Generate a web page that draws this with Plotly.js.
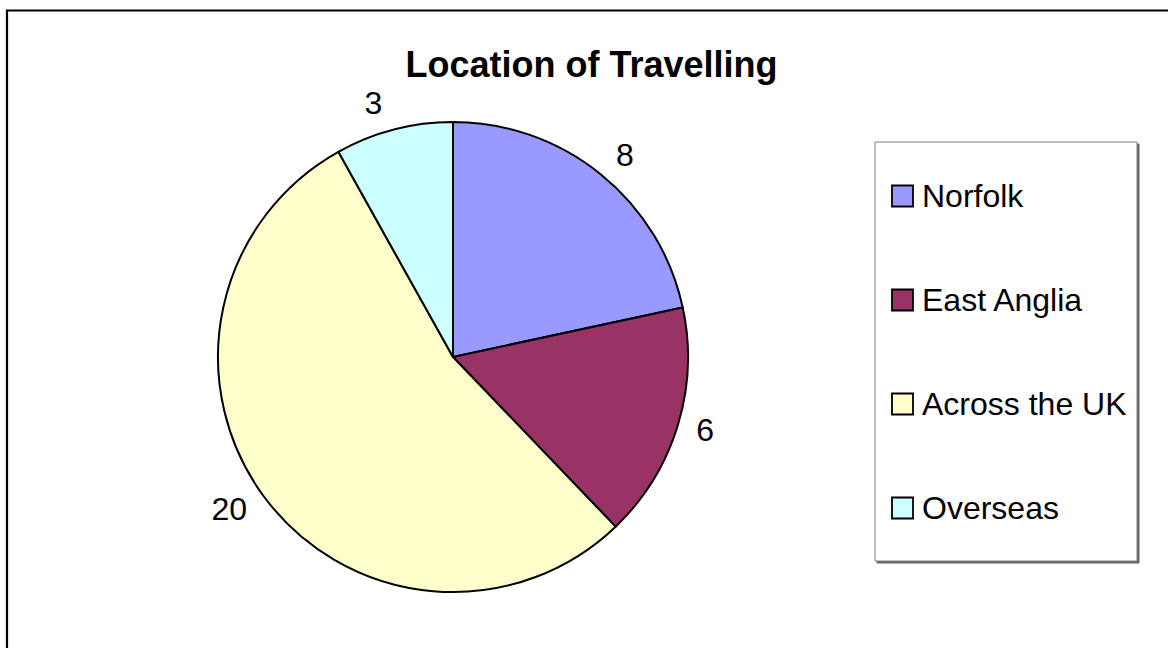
<!DOCTYPE html>
<html>
<head>
<meta charset="utf-8">
<script src="https://cdn.plot.ly/plotly-3.0.1.min.js"></script>
<style>
  html, body { margin: 0; padding: 0; background: #fff; }
  #chart { width: 1168px; height: 648px; }
</style>
</head>
<body>
<div id="chart"></div>
<script>
// ---- data ----
const categories = ["Norfolk", "East Anglia", "Across the UK", "Overseas"];
const values = [8, 6, 20, 3];
const sliceColors = ["#9999FF", "#993366", "#FFFFCC", "#CCFFFF"];
const chartTitle = "Location of Travelling";

// ---- layout helpers (pixels -> paper) ----
const W = 1168, H = 648;
const px = x => x / W;
const py = y => 1 - y / H;

const FONT = "Liberation Sans, Arial, sans-serif";
const CX = 453, CY = 357, R = 235, RLAB = 245;

// visible pie (no text)
const pieTrace = {
  type: "pie",
  labels: categories,
  values: values,
  sort: false,
  direction: "clockwise",
  rotation: 0,
  marker: { colors: sliceColors, line: { color: "#000000", width: 2 } },
  textinfo: "none",
  hoverinfo: "label+value+percent",
  domain: { x: [px(CX - R), px(CX + R)], y: [py(CY + R), py(CY - R)] },
  showlegend: false
};

// transparent, slightly larger pie that carries the outside value labels
const labelTrace = {
  type: "pie",
  labels: categories,
  values: values,
  sort: false,
  direction: "clockwise",
  rotation: 0,
  marker: { colors: categories.map(() => "rgba(0,0,0,0)"), line: { width: 0 } },
  textinfo: "value",
  textposition: "outside",
  outsidetextfont: { family: FONT, size: 32, color: "#000" },
  hoverinfo: "skip",
  domain: { x: [px(CX - RLAB), px(CX + RLAB)], y: [py(CY + RLAB), py(CY - RLAB)] },
  showlegend: false
};

// ---- custom legend built from categories / colours ----
const shapes = [];
const annotations = [];

// frame (only top and left edges visible in the reference)
shapes.push({ type: "rect", xref: "paper", yref: "paper",
  x0: px(7), y0: py(10.5), x1: px(1200), y1: py(700),
  line: { color: "#000", width: 2.2 }, fillcolor: "rgba(0,0,0,0)" });

// legend box shadow + box
const LX0 = 875, LX1 = 1137, LY0 = 142, LY1 = 561;
shapes.push({ type: "rect", xref: "paper", yref: "paper",
  x0: px(LX0 + 2), y0: py(LY0 + 2), x1: px(LX1 + 2), y1: py(LY1 + 2),
  line: { color: "#666", width: 1 }, fillcolor: "#666", layer: "below" });
shapes.push({ type: "rect", xref: "paper", yref: "paper",
  x0: px(LX0), y0: py(LY0), x1: px(LX1), y1: py(LY1),
  line: { color: "#808080", width: 1 }, fillcolor: "#fff", layer: "below" });

const itemY0 = 196, itemGap = 104, sq = 21, sqCx = 902.5;
categories.forEach((name, i) => {
  const cy = itemY0 + i * itemGap;
  shapes.push({ type: "rect", xref: "paper", yref: "paper",
    x0: px(sqCx - sq / 2), x1: px(sqCx + sq / 2),
    y0: py(cy - sq / 2), y1: py(cy + sq / 2),
    line: { color: "#000", width: 1.8 }, fillcolor: sliceColors[i] });
  annotations.push({ xref: "paper", yref: "paper",
    x: px(920), y: py(cy), xanchor: "left", yanchor: "middle",
    text: name, showarrow: false,
    font: { family: FONT, size: 32, color: "#000" } });
});

const layout = {
  width: W, height: H,
  margin: { l: 0, r: 0, t: 0, b: 0 },
  paper_bgcolor: "#fff",
  plot_bgcolor: "#fff",
  title: {
    text: "<b>" + chartTitle + "</b>",
    x: px(591.5), xanchor: "center",
    y: py(64), yanchor: "middle",
    font: { family: FONT, size: 36, color: "#000" }
  },
  shapes: shapes,
  annotations: annotations,
  showlegend: false
};

Plotly.newPlot("chart", [pieTrace, labelTrace], layout, { displayModeBar: false, staticPlot: true });
</script>
</body>
</html>
